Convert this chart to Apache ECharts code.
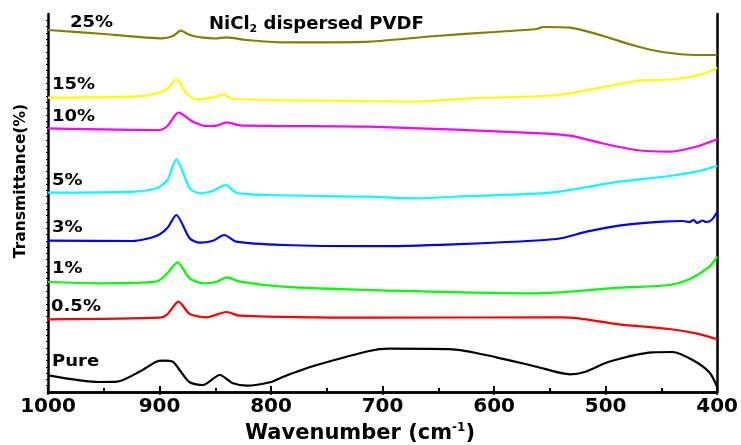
<!DOCTYPE html>
<html>
<head>
<meta charset="utf-8">
<script src="https://cdn.jsdelivr.net/npm/echarts@6/dist/echarts.min.js"></script>
<style>
  html, body { margin: 0; padding: 0; background: #fff; }
  #chart { width: 741px; height: 445px; }
</style>
</head>
<body>
<div id="chart"></div>
<script>
// FTIR spectra, stacked with offsets (arbitrary units)
const names = ['25%', '15%', '10%', '5%', '3%', '1%', '0.5%', 'Pure']
const colors = ['#808000', '#ffff00', '#ff00ff', '#00ffff', '#0000ff', '#00ff00', '#ff0000', '#000000']

const wn25 = [1000, 950, 898, 888, 881, 873, 861, 850, 840, 822, 789, 745, 712, 652, 600, 562, 556, 532, 503, 473, 449, 419, 400]
const t25 = [362, 358, 353.7, 356, 361.3, 357, 354.3, 353.5, 354.7, 352, 349.7, 349.7, 350.3, 356, 360, 363, 365, 364.3, 356.3, 346, 340, 337, 337]

const wn15 = [1000, 924, 906, 893, 885, 876, 867, 852, 843, 834, 712, 673, 622, 557, 532, 503, 473, 437, 413, 400]
const t15 = [294.3, 295.3, 297.7, 303.3, 312.7, 298.7, 292.7, 294.7, 297.7, 293, 291, 290.3, 293.7, 296, 298.7, 304.7, 311, 313, 318, 324.3]

const wn10 = [1000, 900, 893, 883, 870, 858, 849, 840, 828, 712, 557, 532, 503, 473, 443, 419, 400]
const t10 = [263.7, 262, 266, 279.3, 270.3, 266, 266.3, 269.7, 266.7, 265.3, 258.7, 256.3, 248.7, 242, 240.3, 245.3, 252.7]

const wn5 = [1000, 924, 903, 893, 885, 873, 864, 852, 841, 831, 804, 712, 673, 622, 550, 488, 443, 419, 400]
const t5 = [199.3, 200.3, 203.7, 212, 232.7, 203.7, 198.7, 201.3, 207, 199.3, 197, 195.3, 193.7, 196, 199.3, 210.3, 216, 220.3, 226.3]

const wn3 = [1000, 924, 903, 893, 885, 873, 864, 852, 842, 831, 789, 712, 637, 544, 517, 488, 449, 431, 425, 421, 418, 413, 410, 405, 400]
const t3 = [151.3, 151, 156, 164, 177, 153.7, 149.3, 151.3, 157, 150.3, 147, 145.8, 147.7, 153, 160.3, 166.3, 170.3, 171, 170, 172, 169, 171.5, 170, 172, 180]

const wn1 = [1000, 954, 903, 893, 884, 873, 861, 849, 840, 828, 789, 712, 562, 532, 488, 443, 425, 407, 400]
const t1 = [110, 108.7, 110.3, 118.7, 129.7, 113.7, 108.7, 110.3, 114.7, 110.3, 105.3, 102, 98.7, 100.3, 104.3, 107, 112.7, 125.3, 135.3]

const wn05 = [1000, 900, 893, 883, 873, 858, 840, 828, 712, 541, 524, 488, 443, 419, 400]
const t05 = [72.7, 74.3, 77.7, 90.3, 78, 74.7, 80, 76.3, 74.3, 74.7, 73.7, 67.7, 63, 58.7, 52.7]

const wnPure = [1000, 954, 938, 918, 903, 897, 888, 882, 873, 861, 846, 834, 822, 801, 789, 777, 759, 712, 694, 637, 598, 562, 532, 518, 497, 458, 440, 422, 407, 400]
const tPure = [16.7, 10, 10.3, 20.3, 30.3, 31.3, 30.3, 22, 9.7, 7, 17, 8.7, 6.3, 9.7, 15.3, 20.3, 27, 41, 43.3, 42.7, 34.7, 25.3, 17.7, 20.3, 30.3, 39.7, 40, 32, 19.7, 5.3]

const xTicks = [1000, 900, 800, 700, 600, 500, 400]

const wnList = [wn25, wn15, wn10, wn5, wn3, wn1, wn05, wnPure]
const tList = [t25, t15, t10, t5, t3, t1, t05, tPure]

const chart = echarts.init(document.getElementById('chart'))

const series = names.map((n, i) => ({
  name: n,
  type: 'line',
  xAxisIndex: 0,
  yAxisIndex: 0,
  data: wnList[i].map((w, j) => [w, tList[i][j]]),
  showSymbol: false,
  smooth: 0.25,
  lineStyle: { color: colors[i], width: 2.2 },
  z: 2
}))

// curve labels near the left axis: [text, left x, cap centre y]
const labelPos = [
  ['25%', 70, 23.5], ['15%', 52, 85], ['10%', 52, 117], ['5%', 52, 181.5],
  ['3%', 52, 228.5], ['1%', 52, 269], ['0.5%', 51, 307], ['Pure', 52, 362.5]
]
const fontFam = '"DejaVu Sans", Arial, sans-serif'

const option = {
  animation: false,
  grid: { left: 48, right: 23, top: 14, bottom: 53 },
  xAxis: [{
    type: 'value',
    inverse: true,
    min: 400,
    max: 1000,
    interval: 100,
    axisLine: { lineStyle: { color: '#000', width: 2.5 } },
    axisTick: { inside: true, length: 6, lineStyle: { width: 2, color: '#000' } },
    minorTick: { show: true, splitNumber: 2, length: 4, lineStyle: { width: 2, color: '#000' } },
    axisLabel: {
      color: '#000', fontSize: 20, fontWeight: 'bold', fontFamily: fontFam, margin: 5,
      formatter: v => xTicks.includes(v) ? String(v) : ''
    },
    splitLine: { show: false }
  }, {
    type: 'value',
    position: 'top',
    inverse: true,
    min: 400,
    max: 1000,
    interval: 100,
    axisLine: { lineStyle: { color: '#000', width: 2.5 } },
    axisTick: { inside: true, length: 3, lineStyle: { width: 1.5, color: '#000' } },
    axisLabel: { show: false },
    splitLine: { show: false }
  }],
  yAxis: [{
    type: 'value',
    min: 0,
    max: 378,
    interval: 378,
    axisLine: { show: true, lineStyle: { color: '#000', width: 2.5 } },
    axisTick: { show: false },
    minorTick: { show: true, splitNumber: 60, length: 2, lineStyle: { color: '#000', width: 1 } },
    axisLabel: { show: false },
    splitLine: { show: false }
  }, {
    type: 'value',
    position: 'right',
    min: 0,
    max: 378,
    interval: 378,
    axisLine: { show: true, lineStyle: { color: '#000', width: 2.5 } },
    axisTick: { show: false },
    axisLabel: { show: false },
    splitLine: { show: false }
  }],
  series: series,
  graphic: [
    ...labelPos.map(p => ({
      type: 'text', x: p[1], y: p[2], scaleX: 1.2,
      style: { text: p[0], fill: '#000', font: 'bold 15px ' + fontFam, align: 'left', verticalAlign: 'middle' }
    })),
    {
      type: 'text', x: 209, y: 24.5,
      style: {
        text: '{a|NiCl}{s|2}{a| dispersed PVDF}',
        align: 'left', verticalAlign: 'middle',
        rich: {
          a: { fontSize: 18, fontWeight: 'bold', fontFamily: fontFam, fill: '#000' },
          s: { fontSize: 11, fontWeight: 'bold', fontFamily: fontFam, fill: '#000', verticalAlign: 'bottom', padding: [10, 0, 0, 0] }
        }
      }
    },
    {
      type: 'text', x: 21, y: 181, rotation: Math.PI / 2,
      style: {
        text: 'Transmittance(%)', fill: '#000', font: 'bold 15.5px ' + fontFam,
        align: 'center', verticalAlign: 'middle'
      }
    },
    {
      type: 'text', x: 360, y: 434,
      style: {
        text: '{a|Wavenumber (cm}{s|-1}{a|)}',
        align: 'center', verticalAlign: 'middle',
        rich: {
          a: { fontSize: 21, fontWeight: 'bold', fontFamily: fontFam, fill: '#000' },
          s: { fontSize: 12, fontWeight: 'bold', fontFamily: fontFam, fill: '#000', padding: [0, 0, 12, 0] }
        }
      }
    }
  ]
}
chart.setOption(option)
</script>
</body>
</html>
